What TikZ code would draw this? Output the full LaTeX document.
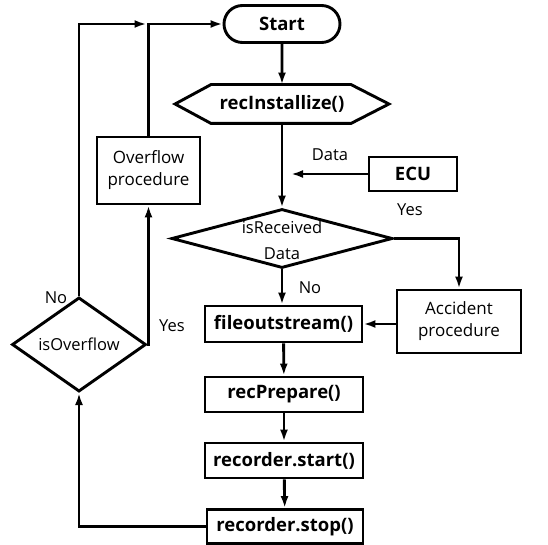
\documentclass[tikz,border=0pt]{standalone}
\usepackage{fontspec}
\setmainfont{Open Sans}
\usetikzlibrary{shapes.misc,shapes.geometric,arrows.meta,calc}
\begin{document}
\begin{tikzpicture}[x=1pt,y=-1pt,
  every node/.style={font=\fontsize{16}{17}\selectfont},
  ln/.style={line width=2.9pt},
  arr/.style={ln,-{Latex[length=12pt,width=8pt]}},
  proc/.style={draw,ln,rectangle,inner sep=0pt,font=\bfseries\fontsize{18.5}{19}\selectfont},
  sproc/.style={draw,ln,rectangle,inner sep=0pt,align=center,font=\fontsize{17}{22}\selectfont},
  term/.style={draw,ln,rounded rectangle,inner sep=0pt,font=\bfseries\fontsize{18.5}{19}\selectfont},
  dec/.style={draw,ln,diamond,inner sep=0pt,align=center,font=\fontsize{16.5}{18}\selectfont},
  lbl/.style={font=\fontsize{16.5}{18}\selectfont}]
\useasboundingbox (0,0) rectangle (548,545);
\node[term,minimum width=116,minimum height=37] (start) at (282,24) {Start};
\node[proc,draw=none,minimum width=211,minimum height=36] (rec) at (282,104) {recInstallize()};
\draw[ln,line join=miter] (rec.west) -- ($(rec.north west)+(36,0)$) -- ($(rec.north east)+(-38,0)$) -- (rec.east) -- ($(rec.south east)+(-38,0)$) -- ($(rec.south west)+(36,0)$) -- cycle;
\node[proc,minimum width=88,minimum height=34] (ecu) at (413,174) {ECU};
\node[dec,minimum width=221,minimum height=59] (isrec) at (282,238.5) {};
\node[lbl,align=center,inner sep=0pt,font=\fontsize{16.5}{26}\selectfont] (isrectext) at (282,240) {isReceived\\Data};
\node[sproc,minimum width=124,minimum height=63] (acc) at (459,321.5) {Accident\\procedure};
\node[proc,minimum width=157,minimum height=36] (fo) at (283.5,324) {fileoutstream()};
\node[proc,minimum width=158,minimum height=35] (prep) at (284,394.5) {recPrepare()};
\node[proc,minimum width=158,minimum height=35] (rstart) at (284,460.5) {recorder.start()};
\node[proc,minimum width=156,minimum height=34] (rstop) at (285,526.5) {recorder.stop()};
\node[dec,minimum width=134,minimum height=55] (isov) at (79,344.5) {isOverflow};
\node[sproc,minimum width=103,minimum height=67] (ovf) at (148.5,170.5) {Overflow\\procedure};
\coordinate (dataend) at (291,173);
\coordinate (join) at (ovf.north |- start.west);
% connectors
\draw[arr] (start) -- (rec);
\draw[arr] (rec) -- (isrec);
\draw[arr] (ecu.west) -- (dataend |- ecu.west);
\node[lbl] (datalbl) at (330,155) {Data};
\node[lbl] (yes1) at (410,210) {Yes};
\draw[arr] (isrec.east) -| (acc.north);
\draw[arr] (isrec.south) -- (isrec.south |- fo.north);
\node[lbl] (no1) at (310,288) {No};
\draw[arr] (acc.west |- fo.east) -- (fo.east);
\draw[arr] (fo) -- (prep);
\draw[arr] (prep) -- (rstart);
\draw[arr] (rstart) -- (rstop);
\draw[arr] (rstop.west) -| (isov.south);
\draw[arr] (isov.east) -| (ovf.south);
\node[lbl] (yes2) at (172,326) {Yes};
\draw[arr] (ovf.north) |- (start.west);
\draw[arr] (isov.north) |- ($(join)+(-2,0)$);
\node[lbl] (no2) at (56,298) {No};
\end{tikzpicture}
\end{document}
